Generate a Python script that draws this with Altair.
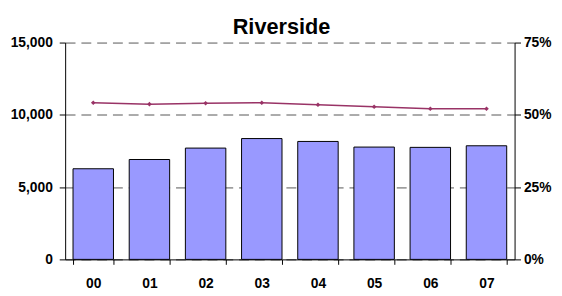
import altair as alt
import pandas as pd

years = ["00", "01", "02", "03", "04", "05", "06", "07"]
counts = [6270, 6910, 7700, 8360, 8160, 7770, 7750, 7860]
shares = [0.542, 0.537, 0.540, 0.542, 0.535, 0.528, 0.521, 0.521]

df = pd.DataFrame({"year": years, "count": counts, "share": shares})

FONT = "Liberation Sans"

x_enc = alt.X(
    "year:N", sort=years, title=None,
    scale=alt.Scale(paddingInner=0.28, paddingOuter=0.14),
    axis=alt.Axis(labelAngle=0, tickBand="extent", domainColor="black", domainWidth=1,
                  tickColor="black", tickSize=5, labelPadding=13, labelFont=FONT,
                  labelFontSize=14, labelFontWeight="bold", labelColor="black", grid=False),
)

bars = alt.Chart(df).mark_bar(color="#9999FF", stroke="black", strokeWidth=1).encode(
    x=x_enc,
    y=alt.Y("count:Q", title=None, scale=alt.Scale(domain=[0, 15000], nice=False),
            axis=alt.Axis(values=[0, 5000, 10000, 15000], format=",.0f", grid=True,
                          gridDash=[10, 6], gridColor="#555555", gridWidth=1,
                          domainColor="black", tickColor="black", tickSize=6,
                          labelPadding=7, labelFont=FONT, labelFontSize=14,
                          labelFontWeight="bold", labelColor="black")),
)

line = alt.Chart(df).mark_line(
    color="#993366", strokeWidth=1.5,
    point=alt.OverlayMarkDef(shape="diamond", size=22, color="#993366", filled=True),
).encode(
    x=x_enc,
    y=alt.Y("share:Q", title=None, scale=alt.Scale(domain=[0, 0.75], nice=False),
            axis=alt.Axis(orient="right", values=[0, 0.25, 0.5, 0.75], format=".0%",
                          grid=False, domainColor="black", tickColor="black", tickSize=6,
                          labelPadding=3, labelFont=FONT, labelFontSize=14,
                          labelFontWeight="bold", labelColor="black")),
)

chart = alt.layer(bars, line).resolve_scale(y="independent").properties(
    width=456, height=220,
    padding={"left": 58, "top": 33, "right": 40, "bottom": 30},
    autosize=alt.AutoSizeParams(type="none"),
    background="white",
    title=alt.TitleParams("Riverside", font=FONT, fontSize=22, fontWeight="bold",
                          color="black", anchor="middle", frame="group", dx=-8.5,
                          offset=4, dy=7),
).configure_view(strokeWidth=0)

chart.save("out.html", embed_options={"renderer": "svg", "actions": False})
